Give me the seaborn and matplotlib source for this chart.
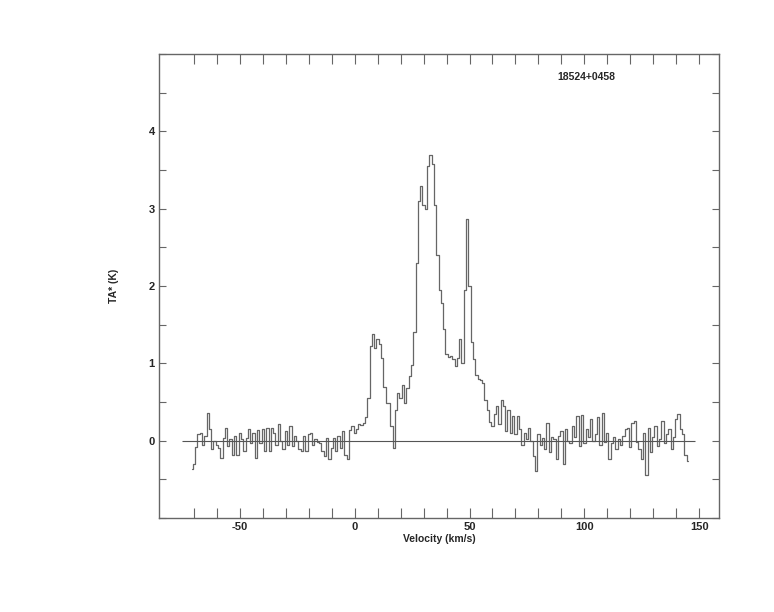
import numpy as np
import pandas as pd
import matplotlib
matplotlib.use('Agg')
import matplotlib.pyplot as plt
import seaborn as sns
from matplotlib.ticker import FixedLocator, MultipleLocator

# spectrum of 18524+0458, channels every 1 km/s starting at -71 km/s
v_start = -71.0
dv = 1.0
ta = [
    -0.36, -0.30, -0.08, 0.08, 0.10, -0.05, 0.06, 0.36, 0.15, -0.11,   # -71 .. -62
    0.00, -0.05, -0.09, -0.22, 0.04, 0.17, -0.07, 0.02, -0.18, 0.06,   # -61 .. -52
    -0.18, 0.10, 0.02, -0.13, 0.04, 0.15, -0.03, 0.10, -0.23, 0.14,    # -51 .. -42
    -0.03, 0.15, -0.13, 0.17, -0.13, 0.16, 0.10, -0.05, 0.22, 0.00,    # -41 .. -32
    -0.11, 0.12, -0.05, 0.19, -0.07, 0.06, 0.00, -0.11, -0.13, 0.06,   # -31 .. -22
    -0.13, 0.08, 0.10, -0.05, 0.02, -0.02, -0.03, -0.13, -0.20, 0.04,  # -21 .. -12
    -0.24, -0.09, 0.04, -0.13, 0.06, -0.09, 0.12, -0.18, -0.24, 0.14,  # -11 .. -2
    0.19, 0.10, 0.15, 0.21, 0.20, 0.23, 0.30, 0.55, 1.22, 1.38,        # -1 .. 8
    1.20, 1.32, 1.25, 1.07, 0.70, 0.49, 0.49, 0.19, -0.09, 0.40,       # 9 .. 18
    0.62, 0.55, 0.72, 0.49, 0.68, 0.83, 0.98, 1.40, 2.30, 3.10,        # 19 .. 28
    3.29, 3.05, 2.99, 3.55, 3.70, 3.58, 3.05, 2.40, 1.95, 1.78,        # 29 .. 38
    1.45, 1.12, 1.08, 1.10, 1.05, 0.97, 1.07, 1.31, 1.00, 1.95,        # 39 .. 48
    2.87, 2.00, 1.28, 1.05, 0.85, 0.80, 0.78, 0.75, 0.53, 0.40,        # 49 .. 58
    0.24, 0.19, 0.35, 0.45, 0.22, 0.53, 0.45, 0.13, 0.39, 0.10,        # 59 .. 68
    0.32, 0.09, 0.32, 0.15, -0.05, 0.10, 0.02, 0.17, 0.00, -0.20,      # 69 .. 78
    -0.39, 0.08, -0.05, 0.03, -0.11, 0.23, -0.15, 0.05, 0.02, -0.24,   # 79 .. 88
    0.06, 0.12, -0.30, 0.15, 0.00, -0.03, 0.19, 0.05, 0.32, -0.07,     # 89 .. 98
    0.33, -0.03, 0.15, 0.05, 0.28, 0.00, 0.08, 0.30, -0.05, 0.36,      # 99 .. 108
    -0.02, 0.10, -0.24, -0.03, 0.05, -0.11, 0.02, -0.05, 0.06, 0.15,   # 109 .. 118
    0.17, -0.08, 0.23, 0.25, -0.02, -0.11, -0.24, 0.10, -0.44, 0.17,   # 119 .. 128
    -0.15, 0.05, 0.19, -0.07, 0.02, 0.25, -0.03, 0.08, 0.15, -0.11,    # 129 .. 138
    0.05, 0.28, 0.35, 0.15, 0.08, -0.18, -0.26,                        # 139 .. 145
]
velocity = v_start + dv * np.arange(len(ta))
source = '18524+0458'
baseline = [-75, 148]

df = pd.DataFrame({'velocity': velocity, 'ta': ta})

sns.set_style('ticks')
plt.rcParams['font.family'] = ['Liberation Sans', 'DejaVu Sans']
plt.rcParams['font.weight'] = 'bold'
plt.rcParams['axes.unicode_minus'] = False

grey = '#666666'
fig = plt.figure(figsize=(7.74, 6.12), dpi=100)
ax = fig.add_axes([0.2054, 0.1536, 0.7235, 0.7582])

sns.lineplot(data=df, x='velocity', y='ta', drawstyle='steps-mid',
             color=grey, lw=0.9, estimator=None, ax=ax)
ax.hlines(0, baseline[0], baseline[1], color='#555555', lw=0.8)

ax.set_xlim(-85.2, 158.6)
ax.set_ylim(-1, 5)
ax.xaxis.set_major_locator(FixedLocator([-50, 0, 50, 100, 150]))
ax.xaxis.set_minor_locator(FixedLocator(np.arange(-70, 151, 10)))
ax.yaxis.set_major_locator(FixedLocator([0, 1, 2, 3, 4]))
ax.yaxis.set_minor_locator(MultipleLocator(0.5))

for s in ax.spines.values():
    s.set_color(grey)
    s.set_linewidth(1)
ax.tick_params(axis='x', which='both', direction='in', length=7, width=0.8,
               color=grey, top=True, labelsize=8, pad=3)
ax.tick_params(axis='y', which='both', direction='in', length=5, width=0.8,
               color=grey, right=True, labelsize=8, pad=3)
for lab in ax.get_xticklabels() + ax.get_yticklabels():
    lab.set_fontweight('bold')

ax.set_xlabel('Velocity (km/s)', fontsize=7.5, fontweight='bold', labelpad=1)
ax.set_ylabel('TA* (K)', fontsize=7.5, fontweight='bold')
ax.yaxis.set_label_coords(-0.072, 0.5)
ax.text(0.711, 0.950, source, transform=ax.transAxes, fontsize=7.5,
        fontweight='bold', ha='left', va='center')

fig.savefig('out.png', dpi=100)
